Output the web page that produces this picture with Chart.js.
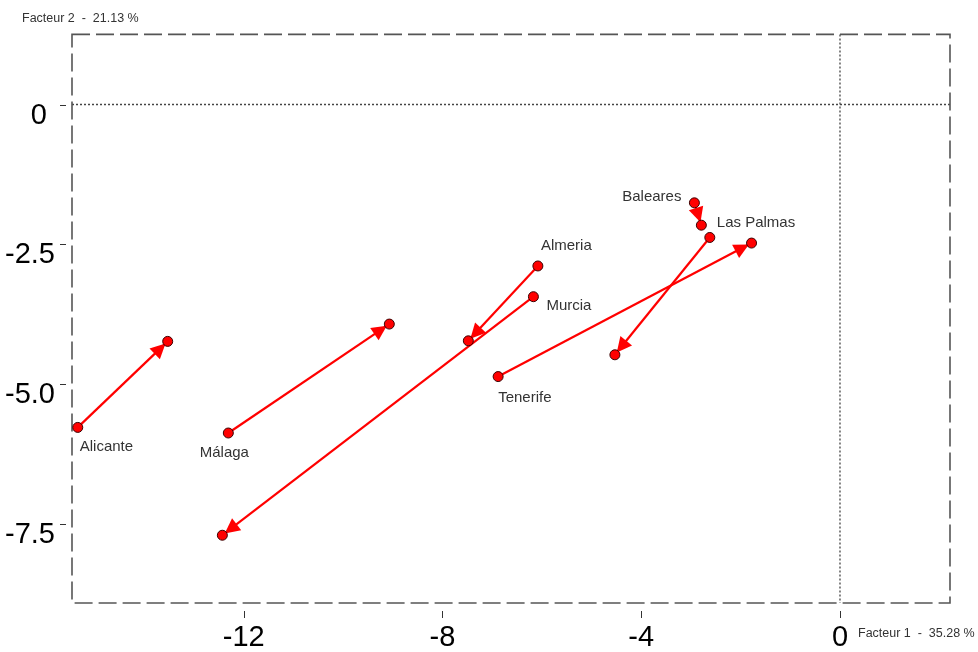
<!DOCTYPE html>
<html>
<head>
<meta charset="utf-8">
<script src="https://cdn.jsdelivr.net/npm/chart.js@4/dist/chart.umd.min.js"></script>
<style>
  html, body { margin: 0; padding: 0; background: #fff; }
  #wrap { width: 978px; height: 652px; position: relative; }
</style>
</head>
<body>
<div id="wrap"><canvas id="chart"></canvas></div>
<script>
// data
const regions = ['Alicante', 'Málaga', 'Almeria', 'Murcia', 'Tenerife', 'Las Palmas', 'Baleares'];
const startX = [-15.34, -12.31, -6.08, -6.17, -6.88, -2.62, -2.93];
const startY = [-5.78, -5.88, -2.89, -3.44, -4.87, -2.38, -1.76];
const endX = [-13.53, -9.07, -7.48, -12.43, -1.78, -4.53, -2.79];
const endY = [-4.24, -3.93, -4.23, -7.71, -2.48, -4.48, -2.16];
const xTicks = [-12, -8, -4, 0];
const yTicks = [0, -2.5, -5, -7.5];
const xTitle = 'Facteur 1  -  35.28 %';
const yTitle = 'Facteur 2  -  21.13 %';

// where each region name sits around its first point: [dx, dy, align]
const labelPlace = [
  [2, 19, 'left'], [-4, 20, 'center'], [3, -20, 'left'], [13, 9, 'left'],
  [0, 21, 'left'], [7, -15, 'left'], [-13, -6, 'right']
];

const tickFont = "'Liberation Sans Narrow', 'Liberation Sans', Arial, sans-serif";
const textFont = "'Liberation Sans', Arial, sans-serif";
const red = '#ff0000';

const datasets = regions.map((name, i) => ({
  label: name,
  data: [{ x: startX[i], y: startY[i] }, { x: endX[i], y: endY[i] }],
  showLine: true,
  borderColor: red,
  borderWidth: 2.2,
  pointRadius: 5,
  pointBackgroundColor: red,
  pointBorderColor: '#3a0000',
  pointBorderWidth: 1
}));

const frame = {
  id: 'frame',
  beforeDatasetsDraw(chart) {
    const { ctx, chartArea: a, scales } = chart;
    const x0 = scales.x.getPixelForValue(0);
    const y0 = scales.y.getPixelForValue(0);
    ctx.save();
    // dotted zero lines
    ctx.strokeStyle = '#444';
    ctx.lineWidth = 1.3;
    ctx.setLineDash([2, 2]);
    ctx.beginPath();
    ctx.moveTo(a.left, y0); ctx.lineTo(a.right, y0);
    ctx.moveTo(x0, a.top); ctx.lineTo(x0, a.bottom);
    ctx.stroke();
    // dashed frame
    ctx.strokeStyle = '#555';
    ctx.lineWidth = 1.6;
    ctx.setLineDash([18, 6]);
    ctx.strokeRect(a.left, a.top, a.right - a.left, a.bottom - a.top);
    // small tick marks outside the frame
    ctx.setLineDash([]);
    ctx.strokeStyle = '#333';
    ctx.lineWidth = 1;
    ctx.beginPath();
    scales.x.ticks.forEach(t => {
      const px = Math.round(scales.x.getPixelForValue(t.value)) + 0.5;
      ctx.moveTo(px, a.bottom + 8); ctx.lineTo(px, a.bottom + 15);
    });
    scales.y.ticks.forEach(t => {
      const py = Math.round(scales.y.getPixelForValue(t.value)) + 0.5;
      ctx.moveTo(a.left - 12, py); ctx.lineTo(a.left - 6, py);
    });
    ctx.stroke();

    // arrow heads at the second point of each pair
    ctx.fillStyle = red;
    chart.data.datasets.forEach((ds, i) => {
      const pts = chart.getDatasetMeta(i).data;
      const p0 = pts[0], p1 = pts[1];
      const ang = Math.atan2(p1.y - p0.y, p1.x - p0.x);
      const c = Math.cos(ang), s = Math.sin(ang);
      const tx = p1.x - 3 * c, ty = p1.y - 3 * s;
      const bx = tx - 15 * c, by = ty - 15 * s;
      ctx.beginPath();
      ctx.moveTo(tx, ty);
      ctx.lineTo(bx - 7.5 * s, by + 7.5 * c);
      ctx.lineTo(bx + 7.5 * s, by - 7.5 * c);
      ctx.closePath();
      ctx.fill();
    });
    ctx.restore();
  },
  afterDraw(chart) {
    const { ctx } = chart;
    ctx.save();
    // region names
    ctx.fillStyle = '#333';
    ctx.font = '15px ' + textFont;
    ctx.textBaseline = 'middle';
    chart.data.datasets.forEach((ds, i) => {
      const p = chart.getDatasetMeta(i).data[0];
      const [dx, dy, al] = labelPlace[i];
      ctx.textAlign = al;
      ctx.fillText(ds.label, p.x + dx, p.y + dy);
    });
    // axis titles
    ctx.font = '12.5px ' + textFont;
    ctx.textAlign = 'left';
    ctx.textBaseline = 'alphabetic';
    ctx.fillText(yTitle, 22, 22);
    ctx.fillText(xTitle, 858, 637);
    ctx.restore();
  }
};

new Chart(document.getElementById('chart'), {
  type: 'scatter',
  data: { datasets },
  plugins: [frame],
  options: {
    responsive: true,
    maintainAspectRatio: false,
    animation: false,
    layout: { padding: { top: 33, right: 28, left: 0, bottom: 0 } },
    plugins: { legend: { display: false }, tooltip: { enabled: false } },
    scales: {
      x: {
        type: 'linear',
        min: -15.456,
        max: 2.214,
        grid: { display: false, drawTicks: false },
        border: { display: false },
        ticks: {
          color: '#000',
          font: { family: tickFont, size: 29 },
          padding: 18,
          maxRotation: 0,
          callback: v => String(v)
        },
        afterBuildTicks: scale => { scale.ticks = xTicks.map(v => ({ value: v })); },
        afterFit: scale => { scale.height = 49; }
      },
      y: {
        type: 'linear',
        min: -8.923,
        max: 1.255,
        grid: { display: false, drawTicks: false },
        border: { display: false },
        ticks: {
          color: '#000',
          font: { family: tickFont, size: 29 },
          padding: 17,
          labelOffset: 11,
          callback: v => (v === 0 ? '0 ' : v.toFixed(1))
        },
        afterBuildTicks: scale => { scale.ticks = yTicks.map(v => ({ value: v })); },
        afterFit: scale => { scale.width = 72; }
      }
    }
  }
});
</script>
</body>
</html>
